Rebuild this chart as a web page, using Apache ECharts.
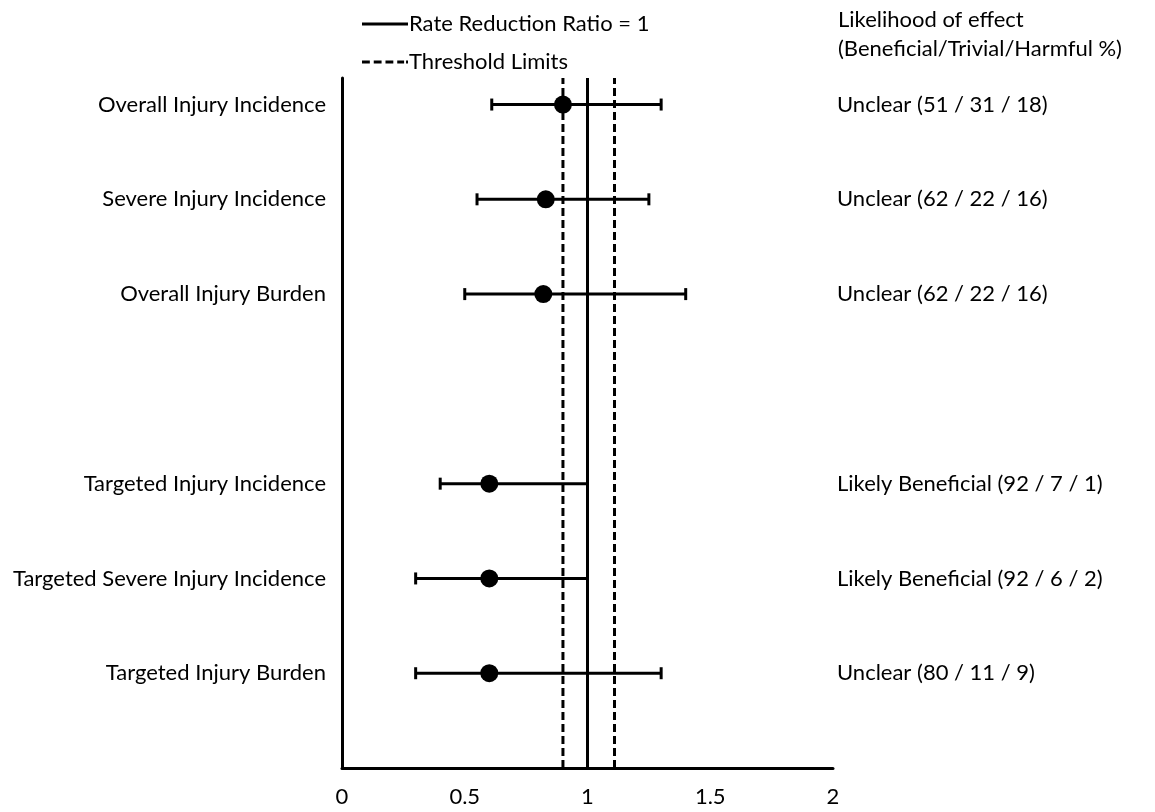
<!DOCTYPE html>
<html>
<head>
<meta charset="utf-8">
<script src="https://cdn.jsdelivr.net/npm/echarts@6/dist/echarts.min.js"></script>
<style>
html,body{margin:0;padding:0;background:#fff;}
#chart{width:1155px;height:812px;}
</style>
</head>
<body>
<div id="chart"></div>
<script>
// Data
var categories = ['Overall Injury Incidence','Severe Injury Incidence','Overall Injury Burden','Targeted Injury Incidence','Targeted Severe Injury Incidence','Targeted Injury Burden'];
var rowPos = [7, 6, 5, 3, 2, 1];           // vertical slot of each row (slot 4 left blank)
var estimate = [0.90, 0.83, 0.82, 0.60, 0.60, 0.60];
var lower = [0.61, 0.55, 0.50, 0.40, 0.30, 0.30];
var upper = [1.30, 1.25, 1.40, 1.00, 1.00, 1.30];
var likelihood = ['Unclear (51 / 31 / 18)','Unclear (62 / 22 / 16)','Unclear (62 / 22 / 16)','Likely Beneficial (92 / 7 / 1)','Likely Beneficial (92 / 6 / 2)','Unclear (80 / 11 / 9)'];
var xTicks = [0, 0.5, 1, 1.5, 2];
var refValue = 1;
var thresholds = [0.9, 1.11];
var yMin = 0, yMax = 7.28;
var headerText = 'Likelihood of effect\n(Beneficial/Trivial/Harmful %)';

var FONT = 'Lato';
var FS = 22;
var labelMap = {}, rightMap = {};
rowPos.forEach(function(p, i){ labelMap[p] = categories[i]; rightMap[p] = likelihood[i]; });

var barData = rowPos.map(function(p, i){ return [lower[i], upper[i], p]; });
var dotData = rowPos.map(function(p, i){ return [estimate[i], p]; });

var chart = echarts.init(document.getElementById('chart'), null, {renderer:'canvas'});
chart.setOption({
  animation: false,
  backgroundColor: '#fff',
  title: {
    text: headerText, left: 833, top: 0,
    textStyle: {fontFamily: FONT, fontSize: FS, fontWeight: 'normal', color: '#000', lineHeight: 29}
  },
  legend: {
    orient: 'vertical', left: 357, top: 8, itemWidth: 46, itemHeight: 14, itemGap: 16,
    textStyle: {fontFamily: FONT, fontSize: FS, color: '#000', padding: [0,0,0,-4]},
    data: [
      {name: 'Rate Reduction Ratio = 1', icon: 'path://M0,0H46V3H0Z'},
      {name: 'Threshold Limits', icon: 'path://M0,0H8V3H0ZM12,0H20V3H12ZM24,0H32V3H24ZM36,0H43V3H36ZM45,0H47V3H45Z'}
    ],
    itemStyle: {color: '#000'}
  },
  grid: {left: 342, right: 322, top: 78, bottom: 44, containLabel: false},
  xAxis: {
    type: 'value', min: 0, max: 2, interval: 0.5,
    axisLine: {show: true, onZero: false, lineStyle: {color: '#000', width: 3}},
    axisTick: {show: false}, splitLine: {show: false},
    axisLabel: {fontFamily: FONT, fontSize: FS, color: '#000', margin: 18,
      formatter: function(v){ return xTicks.indexOf(v) >= 0 ? String(v) : ''; }}
  },
  yAxis: [{
    type: 'value', min: yMin, max: yMax, interval: 1, position: 'left',
    axisLine: {show: true, onZero: false, lineStyle: {color: '#000', width: 3}},
    axisTick: {show: false}, splitLine: {show: false},
    axisLabel: {fontFamily: FONT, fontSize: FS, color: '#000', margin: 16, showMaxLabel: false,
      formatter: function(v){ return labelMap[v] || ''; }}
  },{
    type: 'value', min: yMin, max: yMax, interval: 1, position: 'right',
    axisLine: {show: false}, axisTick: {show: false}, splitLine: {show: false},
    axisLabel: {fontFamily: FONT, fontSize: FS, color: '#000', margin: 4, showMaxLabel: false,
      formatter: function(v){ return rightMap[v] || ''; }}
  }],
  series: [
    {
      name: 'Rate Reduction Ratio = 1', type: 'line', symbol: 'none', z: 3,
      lineStyle: {color: '#000', width: 3}, itemStyle: {color: '#000'},
      data: [[refValue, yMin], [refValue, yMax]]
    },
    {
      name: 'Threshold Limits', type: 'line', symbol: 'none', z: 3,
      lineStyle: {color: '#000', width: 3, type: [8, 4]}, itemStyle: {color: '#000'},
      data: [[thresholds[0], yMin], [thresholds[0], yMax]]
    },
    {
      name: 'Threshold Limits', type: 'line', symbol: 'none', z: 3,
      lineStyle: {color: '#000', width: 3, type: [8, 4]}, itemStyle: {color: '#000'},
      data: [[thresholds[1], yMin], [thresholds[1], yMax]]
    },
    {
      name: 'CI', type: 'custom', z: 4,
      renderItem: function(params, api){
        var y = api.value(2);
        var p1 = api.coord([api.value(0), y]);
        var p2 = api.coord([api.value(1), y]);
        var h = 6;
        var st = {stroke: '#000', lineWidth: 3};
        return {type: 'group', children: [
          {type: 'line', shape: {x1: p1[0], y1: p1[1], x2: p2[0], y2: p2[1]}, style: st},
          {type: 'line', shape: {x1: p1[0], y1: p1[1]-h, x2: p1[0], y2: p1[1]+h}, style: st},
          {type: 'line', shape: {x1: p2[0], y1: p2[1]-h, x2: p2[0], y2: p2[1]+h}, style: st}
        ]};
      },
      encode: {x: [0, 1], y: 2},
      data: barData
    },
    {
      name: 'Estimate', type: 'scatter', z: 5, symbol: 'circle', symbolSize: 18,
      itemStyle: {color: '#000', opacity: 1}, data: dotData
    }
  ]
});
</script>
</body>
</html>
